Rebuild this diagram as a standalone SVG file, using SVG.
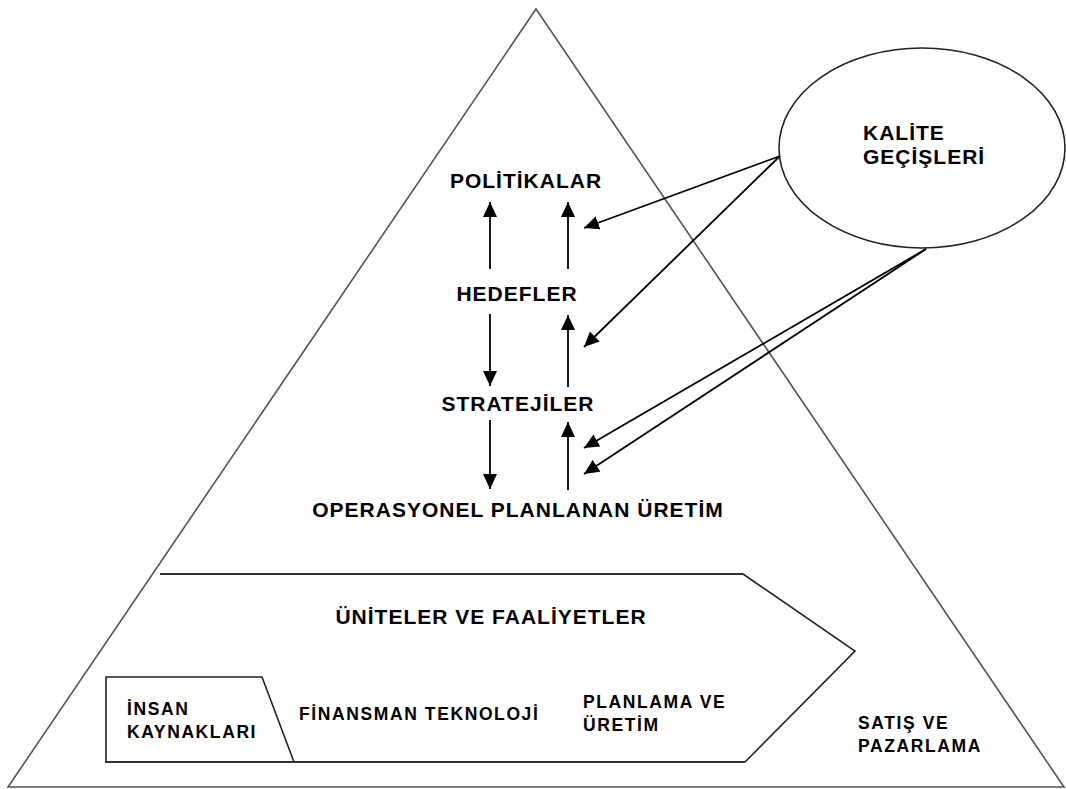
<svg xmlns="http://www.w3.org/2000/svg" width="1066" height="789" viewBox="0 0 1066 789">
  <style>
    .frame { fill: none; stroke: #555; stroke-width: 1.6; }
    .shape { fill: none; stroke: #222; stroke-width: 1.6; stroke-linejoin: miter; }
    .heavy { fill: none; stroke: #333; stroke-width: 2.2; }
    .lbl { font-family: "Liberation Sans", Arial, sans-serif; font-weight: bold; fill: #000; }
    .big { font-size: 21px; letter-spacing: 1px; }
    .small { font-size: 17.5px; letter-spacing: 1.6px; }
    .link { stroke: #000; stroke-width: 1.8; fill: none; marker-end: url(#head); }
  </style>
  <defs>
    <marker id="head" markerUnits="userSpaceOnUse" markerWidth="16" markerHeight="14" refX="15" refY="7" orient="auto">
      <path d="M0,0 L15,7 L0,14 Z" fill="#000"/>
    </marker>
  </defs>

  <rect width="1066" height="789" fill="#fff"/>

  <!-- outer pyramid -->
  <g id="pyramid">
    <polygon class="frame" points="536,9 1064,787 8,787"/>
  </g>

  <!-- hierarchy levels -->
  <g id="politikalar">
    <text class="lbl big" x="526" y="188" text-anchor="middle">POLİTİKALAR</text>
  </g>
  <g id="hedefler">
    <text class="lbl big" x="517" y="301" text-anchor="middle">HEDEFLER</text>
  </g>
  <g id="stratejiler">
    <text class="lbl big" x="518" y="411" text-anchor="middle">STRATEJİLER</text>
  </g>
  <g id="operasyonel">
    <text class="lbl big" x="518" y="517" text-anchor="middle">OPERASYONEL PLANLANAN ÜRETİM</text>
  </g>

  <!-- quality transitions bubble -->
  <g id="kalite">
    <ellipse class="shape" cx="922" cy="148" rx="143" ry="100"/>
    <text class="lbl big" x="863" y="140">KALİTE</text>
    <text class="lbl big" x="863" y="164">GEÇİŞLERİ</text>
  </g>

  <!-- units and activities band -->
  <g id="uniteler">
    <polyline class="heavy" points="160,574 743,574"/>
    <polyline class="shape" points="743,574 855,651 745,762"/>
    <polyline class="heavy" points="745,762 105,762"/>
    <text class="lbl big" x="491" y="624" text-anchor="middle">ÜNİTELER VE FAALİYETLER</text>
  </g>
  <g id="insan-kaynaklari">
    <polyline class="shape" points="106,762 106,677 262,677 294,762"/>
    <text class="lbl small" x="127" y="715">İNSAN</text>
    <text class="lbl small" x="127" y="738">KAYNAKLARI</text>
  </g>
  <g id="finansman-teknoloji">
    <text class="lbl small" x="299" y="720">FİNANSMAN TEKNOLOJİ</text>
  </g>
  <g id="planlama-uretim">
    <text class="lbl small" x="583" y="708">PLANLAMA VE</text>
    <text class="lbl small" x="583" y="731">ÜRETİM</text>
  </g>
  <g id="satis-pazarlama">
    <text class="lbl small" x="858" y="729">SATIŞ VE</text>
    <text class="lbl small" x="858" y="752">PAZARLAMA</text>
  </g>

  <!-- connectors -->
  <g id="connectors">
    <!-- left column -->
    <line class="link" x1="490" y1="269" x2="490" y2="202"/>
    <line class="link" x1="490" y1="314" x2="490" y2="386"/>
    <line class="link" x1="490" y1="420" x2="490" y2="489"/>
    <!-- right column -->
    <line class="link" x1="568" y1="269" x2="568" y2="202"/>
    <line class="link" x1="568" y1="387" x2="568" y2="315"/>
    <line class="link" x1="568" y1="490" x2="568" y2="422"/>
    <!-- from the quality bubble -->
    <line class="link" x1="780" y1="156" x2="584" y2="228"/>
    <line class="link" x1="780" y1="156" x2="584" y2="347"/>
    <line class="link" x1="926" y1="249" x2="584" y2="448"/>
    <line class="link" x1="926" y1="249" x2="584" y2="474"/>
  </g>
</svg>
